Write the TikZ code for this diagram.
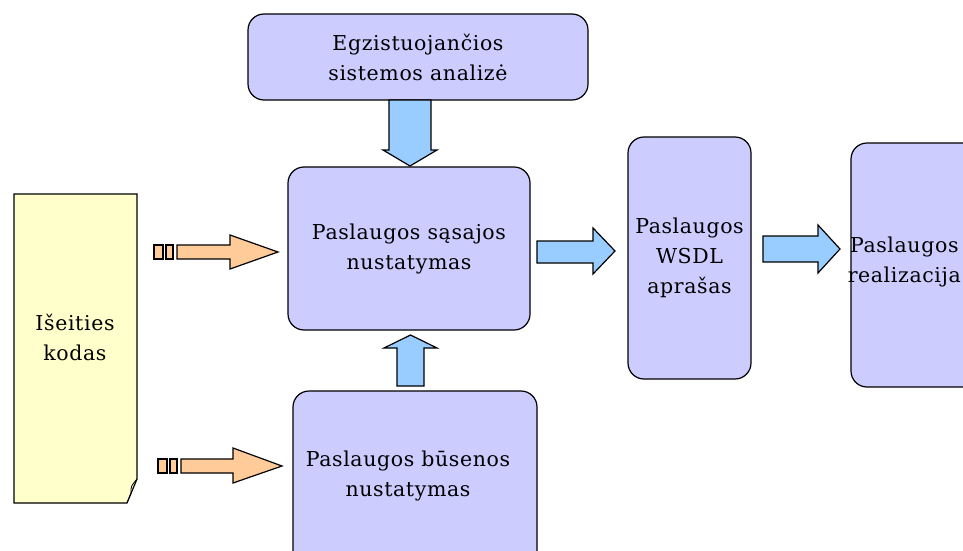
\documentclass[tikz,border=0pt]{standalone}
\usepackage{fontspec}
\setmainfont[LetterSpace=3]{DejaVu Serif}
\definecolor{lav}{HTML}{CCCCFF}
\definecolor{skyarrow}{HTML}{99CCFF}
\definecolor{peach}{HTML}{FFCC99}
\definecolor{paper}{HTML}{FFFFCC}
\begin{document}
\begin{tikzpicture}[x=1pt,y=-1pt,
  every node/.style={font=\fontsize{20.5}{30}\selectfont},
  box/.style={draw=black, line width=1.2pt, fill=lav, rounded corners=16pt,
              align=center, inner sep=0pt},
  label text/.style={align=center, inner sep=0pt},
  bluearrow/.style={draw=black, line width=1.2pt, fill=skyarrow, line join=miter},
  peacharrow/.style={draw=black, line width=1.2pt, fill=peach, line join=miter}]
\useasboundingbox (0,0) rectangle (963,551);
\clip (0,0) rectangle (963,551);

% process boxes
\node[box, minimum width=340pt, minimum height=86pt] (analysis) at (418,57)
  {Egzistuojančios\\sistemos analizė};
\node[box, minimum width=242pt, minimum height=163pt] (iface) at (409,248.5)
  {Paslaugos sąsajos\\nustatymas};
\node[box, minimum width=123pt, minimum height=242pt] (wsdl) at (689.5,258)
  {Paslaugos\\WSDL\\aprašas};
\node[box, minimum width=150pt, minimum height=244pt] (impl) at (926,265) {};
\node[label text, anchor=east] (impltext) at (961,262) {Paslaugos\\realizacija};
\node[box, minimum width=244pt, minimum height=209pt] (state) at (415,495.5) {};
\node[label text] (statetext) at (408,476) {Paslaugos būsenos\\nustatymas};

% source code document with folded corner
\draw[line width=1.2pt, fill=paper] (14,194) -- (137,194) -- (137,479)
  -- (127,503) -- (14,503) -- cycle;
\draw[line width=0.8pt] (137,479) .. controls (131,486) .. (131,493) -- (127,503);
\node[label text] (src) at (75,337) {Išeities\\kodas};

% block arrows between boxes
\draw[bluearrow] (389,100) -- (431,100) -- (431,150) -- (437,150) -- (410,166)
  -- (383,150) -- (389,150) -- cycle;
\draw[bluearrow] (397,386) -- (424,386) -- (424,348) -- (437,348) -- (410.5,335)
  -- (384,348) -- (397,348) -- cycle;
\draw[bluearrow] (537,241) -- (593,241) -- (593,228) -- (615,251) -- (593,274)
  -- (593,263) -- (537,263) -- cycle;
\draw[bluearrow] (763,236) -- (818,236) -- (818,225) -- (840,249) -- (818,273)
  -- (818,262) -- (763,262) -- cycle;

% dashed-tail arrows from the source code
\draw[peacharrow] (154,245) rectangle (163,259);
\draw[peacharrow] (166,245) rectangle (173,259);
\draw[peacharrow] (177,245) -- (230,245) -- (230,235) -- (278,252) -- (230,269)
  -- (230,259) -- (177,259) -- cycle;
\draw[peacharrow] (158,459) rectangle (167,473);
\draw[peacharrow] (170,459) rectangle (177,473);
\draw[peacharrow] (181,459) -- (233,459) -- (233,448) -- (282,466) -- (233,483)
  -- (233,473) -- (181,473) -- cycle;
\end{tikzpicture}
\end{document}
